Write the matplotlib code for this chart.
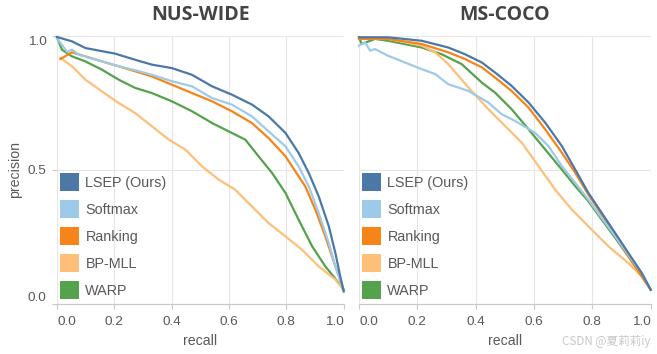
import matplotlib.pyplot as plt
from matplotlib.patches import Patch

plt.rcParams['font.family'] = ['Liberation Sans', 'DejaVu Sans']

names = ["LSEP (Ours)", "Softmax", "Ranking", "BP-MLL", "WARP"]
colors = ["#4c78a8", "#9ecae9", "#f58518", "#ffbf79", "#54a24b"]
titles = ["NUS-WIDE", "MS-COCO"]
tick_vals = [0, 0.2, 0.4, 0.6, 0.8, 1.0]
tick_text = ["0.0", "0.2", "0.4", "0.6", "0.8", "1.0"]
ytick_vals = [0, 0.5, 1.0]
ytick_text = ["0.0", "0.5", "1.0"]

# NUS-WIDE
nus_lsep_r = [0, 0.052, 0.099, 0.203, 0.273, 0.331, 0.401, 0.471, 0.541, 0.610, 0.680, 0.738, 0.797, 0.843, 0.878, 0.913, 0.948, 0.971, 0.988, 1.0]
nus_lsep_p = [0.995, 0.979, 0.954, 0.933, 0.910, 0.892, 0.879, 0.854, 0.811, 0.780, 0.743, 0.699, 0.637, 0.562, 0.488, 0.400, 0.289, 0.189, 0.102, 0.046]
nus_softmax_r = [0, 0.035, 0.052, 0.076, 0.157, 0.215, 0.273, 0.331, 0.401, 0.471, 0.541, 0.610, 0.680, 0.738, 0.797, 0.843, 0.878, 0.913, 0.948, 0.971, 1.0]
nus_softmax_p = [0.99, 0.94, 0.948, 0.929, 0.904, 0.886, 0.871, 0.854, 0.830, 0.811, 0.767, 0.743, 0.699, 0.643, 0.587, 0.512, 0.438, 0.338, 0.226, 0.139, 0.046]
nus_ranking_r = [0.012, 0.052, 0.099, 0.157, 0.215, 0.273, 0.331, 0.401, 0.471, 0.541, 0.610, 0.680, 0.738, 0.797, 0.843, 0.866, 0.901, 0.936, 0.971, 1.0]
nus_ranking_p = [0.913, 0.938, 0.923, 0.904, 0.886, 0.867, 0.848, 0.817, 0.786, 0.755, 0.718, 0.674, 0.618, 0.550, 0.475, 0.438, 0.351, 0.251, 0.139, 0.052]
nus_bpmll_r = [0.012, 0.052, 0.099, 0.157, 0.215, 0.273, 0.331, 0.390, 0.448, 0.506, 0.564, 0.622, 0.680, 0.738, 0.797, 0.855, 0.913, 0.971, 1.0]
nus_bpmll_p = [0.917, 0.886, 0.836, 0.792, 0.749, 0.711, 0.662, 0.612, 0.575, 0.512, 0.463, 0.425, 0.363, 0.301, 0.251, 0.201, 0.139, 0.090, 0.052]
nus_warp_r = [0, 0.017, 0.052, 0.099, 0.157, 0.215, 0.273, 0.331, 0.401, 0.471, 0.541, 0.610, 0.657, 0.703, 0.750, 0.797, 0.843, 0.890, 0.936, 0.983, 1.0]
nus_warp_p = [0.995, 0.948, 0.923, 0.904, 0.873, 0.836, 0.805, 0.786, 0.755, 0.718, 0.674, 0.637, 0.612, 0.550, 0.488, 0.413, 0.313, 0.214, 0.139, 0.077, 0.052]

# MS-COCO
coco_lsep_r = [0, 0.1, 0.215, 0.306, 0.363, 0.421, 0.466, 0.523, 0.581, 0.638, 0.695, 0.741, 0.786, 0.832, 0.878, 0.923, 0.969, 1.0]
coco_lsep_p = [0.994, 0.994, 0.981, 0.956, 0.931, 0.900, 0.863, 0.813, 0.751, 0.676, 0.589, 0.501, 0.414, 0.339, 0.264, 0.190, 0.115, 0.052]
coco_softmax_r = [0, 0.021, 0.038, 0.055, 0.1, 0.158, 0.215, 0.261, 0.306, 0.375, 0.443, 0.489, 0.535, 0.603, 0.649, 0.695, 0.741, 0.786, 0.832, 0.878, 0.923, 0.969, 1.0]
coco_softmax_p = [0.963, 0.975, 0.944, 0.950, 0.925, 0.900, 0.875, 0.857, 0.819, 0.794, 0.751, 0.707, 0.682, 0.638, 0.589, 0.514, 0.451, 0.389, 0.320, 0.252, 0.183, 0.115, 0.052]
coco_ranking_r = [0, 0.1, 0.215, 0.306, 0.363, 0.421, 0.466, 0.523, 0.581, 0.638, 0.695, 0.741, 0.786, 0.832, 0.878, 0.923, 0.969, 1.0]
coco_ranking_p = [0.988, 0.988, 0.969, 0.938, 0.913, 0.882, 0.844, 0.794, 0.732, 0.651, 0.564, 0.489, 0.408, 0.333, 0.252, 0.177, 0.102, 0.052]
coco_bpmll_r = [0, 0.1, 0.215, 0.261, 0.306, 0.375, 0.443, 0.501, 0.558, 0.615, 0.672, 0.729, 0.786, 0.855, 0.923, 0.969, 1.0]
coco_bpmll_p = [0.994, 0.988, 0.963, 0.938, 0.894, 0.807, 0.726, 0.663, 0.601, 0.514, 0.426, 0.352, 0.289, 0.214, 0.152, 0.102, 0.052]
coco_warp_r = [0, 0.009, 0.055, 0.1, 0.215, 0.283, 0.352, 0.421, 0.466, 0.523, 0.581, 0.638, 0.695, 0.741, 0.786, 0.832, 0.878, 0.923, 0.969, 1.0]
coco_warp_p = [0.994, 0.969, 0.988, 0.981, 0.956, 0.931, 0.894, 0.825, 0.788, 0.726, 0.651, 0.576, 0.501, 0.439, 0.383, 0.314, 0.246, 0.177, 0.108, 0.052]

curves = [
    [(nus_lsep_r, nus_lsep_p), (nus_softmax_r, nus_softmax_p), (nus_ranking_r, nus_ranking_p),
     (nus_bpmll_r, nus_bpmll_p), (nus_warp_r, nus_warp_p)],
    [(coco_lsep_r, coco_lsep_p), (coco_softmax_r, coco_softmax_p), (coco_ranking_r, coco_ranking_p),
     (coco_bpmll_r, coco_bpmll_p), (coco_warp_r, coco_warp_p)],
]

W, H = 657, 354
fig = plt.figure(figsize=(W / 100, H / 100), dpi=100)

# axes boxes in pixels: left, right, top, bottom
boxes = [(57, 343.7, 35.7, 303.7), (359, 650.7, 35.7, 303.7)]
text_col = "#595959"

for k in range(2):
    l, r, t, b = boxes[k]
    ax = fig.add_axes([l / W, 1 - b / H, (r - l) / W, (b - t) / H])
    # draw order: bp-mll, warp, ranking, softmax, lsep on top
    for i in [3, 4, 2, 1, 0]:
        xs, ys = curves[k][i]
        ax.plot(xs, ys, color=colors[i], lw=1.6, solid_joinstyle='round', clip_on=False, zorder=3 + (4 - i) * 0.1)
    ax.set_xlim(0, 1)
    ax.set_ylim(0, 1)
    for s in ['top', 'right', 'left']:
        ax.spines[s].set_visible(False)
    ax.spines['bottom'].set_color('#c8c8c8')
    ax.spines['bottom'].set_linewidth(0.8)
    ax.grid(True, color='#e6e6e6', linewidth=0.8)
    ax.set_axisbelow(True)
    ax.set_xticks(tick_vals, labels=tick_text)
    ax.set_yticks(ytick_vals, labels=ytick_text)
    ax.tick_params(axis='both', length=3.6, width=0.8, color='#c8c8c8', labelcolor=text_col, labelsize=9.7)
    ax.tick_params(axis='x', pad=5)
    ax.tick_params(axis='y', pad=4)
    xl = ax.get_xticklabels()
    xl[0].set_ha('left')
    xl[-1].set_ha('right')
    if k == 0:
        yl = ax.get_yticklabels()
        yl[0].set_va('bottom')
        yl[-1].set_va('top')
        fig.text(15 / W, 1 - 169.7 / H, "precision", rotation=90, ha='center', va='center',
                 fontsize=10.2, color=text_col)
    else:
        ax.tick_params(axis='y', left=False, labelleft=False)

    handles = [Patch(facecolor=colors[i], edgecolor='none', label=names[i]) for i in range(5)]
    ax.legend(handles=handles, loc='upper left', bbox_to_anchor=((l + 3.3) / W, 1 - 173 / H),
              bbox_transform=fig.transFigure, frameon=False, borderpad=0, borderaxespad=0,
              fontsize=10.4, handlelength=1.28, handleheight=1.58, labelspacing=0.59,
              handletextpad=0.46, labelcolor=text_col)

    cx = (l + r) / 2
    fig.text(cx / W, 1 - 15 / H, titles[k], ha='center', va='center', fontsize=14,
             fontweight='bold', family=['Open Sans', 'DejaVu Sans'], color='#444444')
    fig.text(cx / W, 1 - 341 / H, "recall", ha='center', va='center', fontsize=10.2, color=text_col)

fig.text(650 / W, 1 - 341 / H, "CSDN @夏莉莉iy", ha='right', va='center', fontsize=8.4,
         color='#c8c8c8', family=['Noto Sans CJK SC', 'DejaVu Sans'])

fig.savefig("out.png", dpi=100)
